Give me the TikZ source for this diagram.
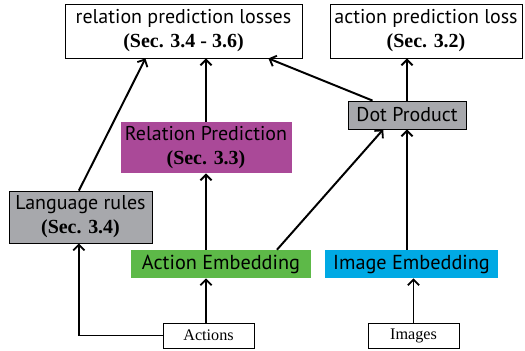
\documentclass[tikz,border=0pt]{standalone}
\usepackage{fontspec}
\setmainfont{Liberation Serif}
\setsansfont{PT Sans}
\usepackage{tikz}
\usetikzlibrary{calc}
\usetikzlibrary{arrows.meta}

\definecolor{relmag}{RGB}{170,73,152}
\definecolor{actgreen}{RGB}{93,185,72}
\definecolor{imgcyan}{RGB}{0,169,228}
\definecolor{rulegray}{RGB}{167,168,172}

\tikzset{
  box/.style={draw, line width=0.6pt, inner sep=0pt, align=center, font=\sffamily\fontsize{14.2}{16}\selectfont},
  fillbox/.style={inner sep=0pt, align=center, font=\sffamily\fontsize{14.4}{16}\selectfont},
  inbox/.style={draw, line width=0.6pt, inner sep=0pt, font=\rmfamily\fontsize{11.5}{13}\selectfont},
  flow/.style={line width=1.4pt, -{Straight Barb[length=4pt,width=8pt,line width=1.3pt]}},
}
\newcommand{\secref}[1]{\\[1pt]{\rmfamily\bfseries\fontsize{14.2}{15}\selectfont (Sec. #1)}}

\begin{document}
\begin{tikzpicture}[x=0.025cm, y=-0.025cm]
            \useasboundingbox (0,0) rectangle (525,350);
            % outputs
            \node[box, minimum width=237*0.025cm, minimum height=54*0.025cm] (rloss) at (183.5,31) {relation prediction losses\secref{3.4 - 3.6}};
            \node[box, minimum width=192*0.025cm, minimum height=54*0.025cm] (aloss) at (426,31) {action prediction loss\secref{3.2}};
            % middle
            \node[box, fill=rulegray, minimum width=118*0.025cm, minimum height=28*0.025cm] (dot) at (407,115) {Dot Product};
            \node[box, draw=none, fill=relmag, minimum width=171*0.025cm, minimum height=51*0.025cm] (relpred) at (206,147.5) {Relation Prediction\secref{3.3}};
            \node[box, fill=rulegray, minimum width=143*0.025cm, minimum height=52*0.025cm] (lang) at (80.5,217) {Language rules\secref{3.4}};
            \node[fillbox, fill=actgreen, minimum width=180*0.025cm, minimum height=28*0.025cm] (actemb) at (221,264) {Action Embedding};
            \node[fillbox, fill=imgcyan, minimum width=173*0.025cm, minimum height=28*0.025cm] (imgemb) at (411.5,264) {Image Embedding};
            % inputs
            \node[inbox, minimum width=91*0.025cm, minimum height=25*0.025cm] (actions) at (208.5,335.5) {Actions};
            \node[inbox, minimum width=91*0.025cm, minimum height=25*0.025cm] (images) at (413.5,335.5) {Images};

            \draw[flow] (actions.north -| relpred.north) -- (relpred.north |- actemb.south);
            \draw[flow] (actions.west) -| ([xshift=-0.04cm]lang.south);
            \draw[flow] (images.north) -- (images.north |- imgemb.south);
            \draw[flow] (relpred.north |- actemb.north) -- (relpred.south);
            \draw[flow] (relpred.north) -- (relpred.north |- rloss.south);
            \draw[flow] ([xshift=-0.04cm]lang.north) -- ($(rloss.south west)!0.34!(rloss.south east)$);
            \draw[flow] ($(actemb.north west)!0.81!(actemb.north east)$) -- ($(dot.south west)!0.30!(dot.south east)$);
            \draw[flow] (imgemb.north -| dot.north) -- (dot.south);
            \draw[flow] ($(dot.north west)!0.21!(dot.north east)$) -- ($(rloss.south west)!0.857!(rloss.south east)$);
            \draw[flow] (dot.north) -- (dot.north |- aloss.south);
        \end{tikzpicture}
\end{document}
